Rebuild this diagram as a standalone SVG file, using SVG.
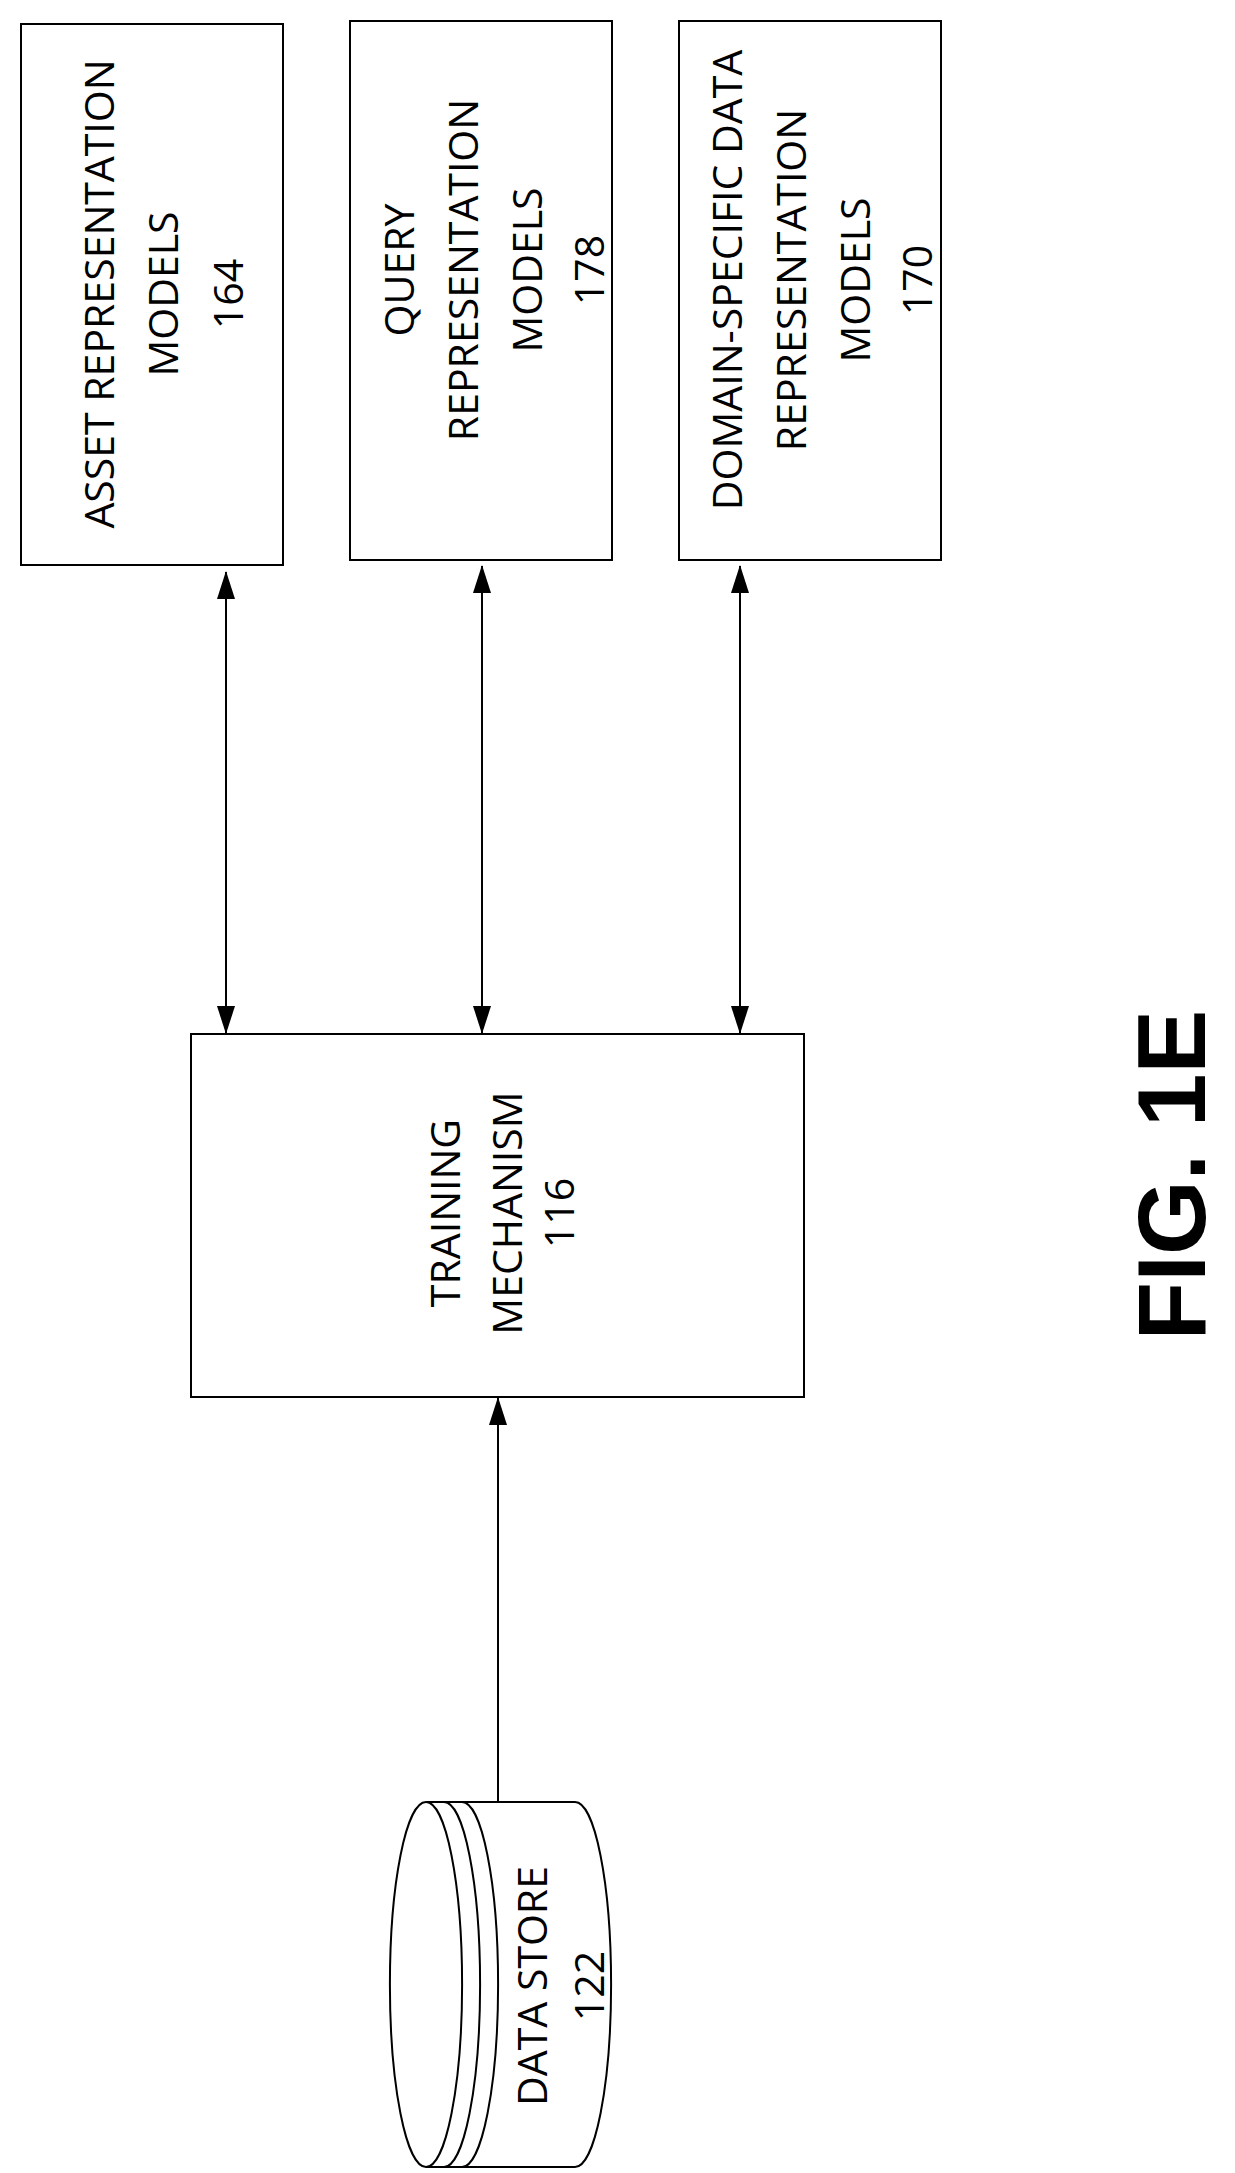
<svg xmlns="http://www.w3.org/2000/svg" width="1235" height="2173" viewBox="0 0 1235 2173">
<style>
.b{fill:#fff;stroke:#000;stroke-width:2}
.t{font-family:"Open Sans","Liberation Sans",sans-serif;font-size:41px;text-anchor:middle;fill:#000}
.c{stroke:#000;stroke-width:2;fill:none}
</style>
<defs>
<marker id="a" viewBox="0 0 28 18" refX="27" refY="9" markerWidth="28" markerHeight="18" markerUnits="userSpaceOnUse" orient="auto-start-reverse"><path d="M0,0 L28,9 L0,18 Z" fill="#000"/></marker>
</defs>
<rect width="1235" height="2173" fill="#fff"/>
<g id="asset">
<rect class="b" x="21" y="24" width="262" height="541"/>
<g transform="translate(0,294) rotate(-90)"><text class="t" x="0" y="114">ASSET REPRESENTATION</text><text class="t" x="0" y="178">MODELS</text><text class="t" x="0" y="243">164</text></g>
</g>
<g id="query">
<rect class="b" x="350" y="21" width="262" height="539"/>
<g transform="translate(0,270) rotate(-90)"><text class="t" x="0" y="414">QUERY</text><text class="t" x="0" y="478">REPRESENTATION</text><text class="t" x="0" y="542">MODELS</text><text class="t" x="0" y="604">178</text></g>
</g>
<g id="domain">
<rect class="b" x="679" y="21" width="262" height="539"/>
<g transform="translate(0,280) rotate(-90)"><text class="t" x="0" y="742">DOMAIN-SPECIFIC DATA</text><text class="t" x="0" y="806">REPRESENTATION</text><text class="t" x="0" y="870">MODELS</text><text class="t" x="0" y="932">170</text></g>
</g>
<g id="training">
<rect class="b" x="191" y="1034" width="613" height="363"/>
<g transform="translate(0,1213) rotate(-90)"><text class="t" x="0" y="460">TRAINING</text><text class="t" x="0" y="522">MECHANISM</text><text class="t" x="0" y="574">116</text></g>
</g>
<g id="datastore">
<path class="b" d="M426,1802 L575,1802 A36,182 0 0 1 575,2167 L426,2167 A36,182 0 0 1 426,1802 Z"/>
<path class="c" d="M426,1802 A36,182 0 0 1 426,2167"/>
<path class="c" d="M444,1802 A36,182 0 0 1 444,2167"/>
<path class="c" d="M462,1802 A36,182 0 0 1 462,2167"/>
<g transform="translate(0,1986) rotate(-90)"><text class="t" x="0" y="547">DATA STORE</text><text class="t" x="0" y="604">122</text></g>
</g>
<g id="connectors">
<line class="c" x1="226" y1="572" x2="226" y2="1033" marker-start="url(#a)" marker-end="url(#a)"/>
<line class="c" x1="482" y1="566" x2="482" y2="1033" marker-start="url(#a)" marker-end="url(#a)"/>
<line class="c" x1="740" y1="566" x2="740" y2="1033" marker-start="url(#a)" marker-end="url(#a)"/>
<line class="c" x1="498" y1="1802" x2="498" y2="1398" marker-end="url(#a)"/>
</g>
<text transform="translate(1205,1175) rotate(-90)" font-family="Liberation Sans,Arial,sans-serif" font-weight="bold" font-size="96" text-anchor="middle">FIG. 1E</text>
</svg>
